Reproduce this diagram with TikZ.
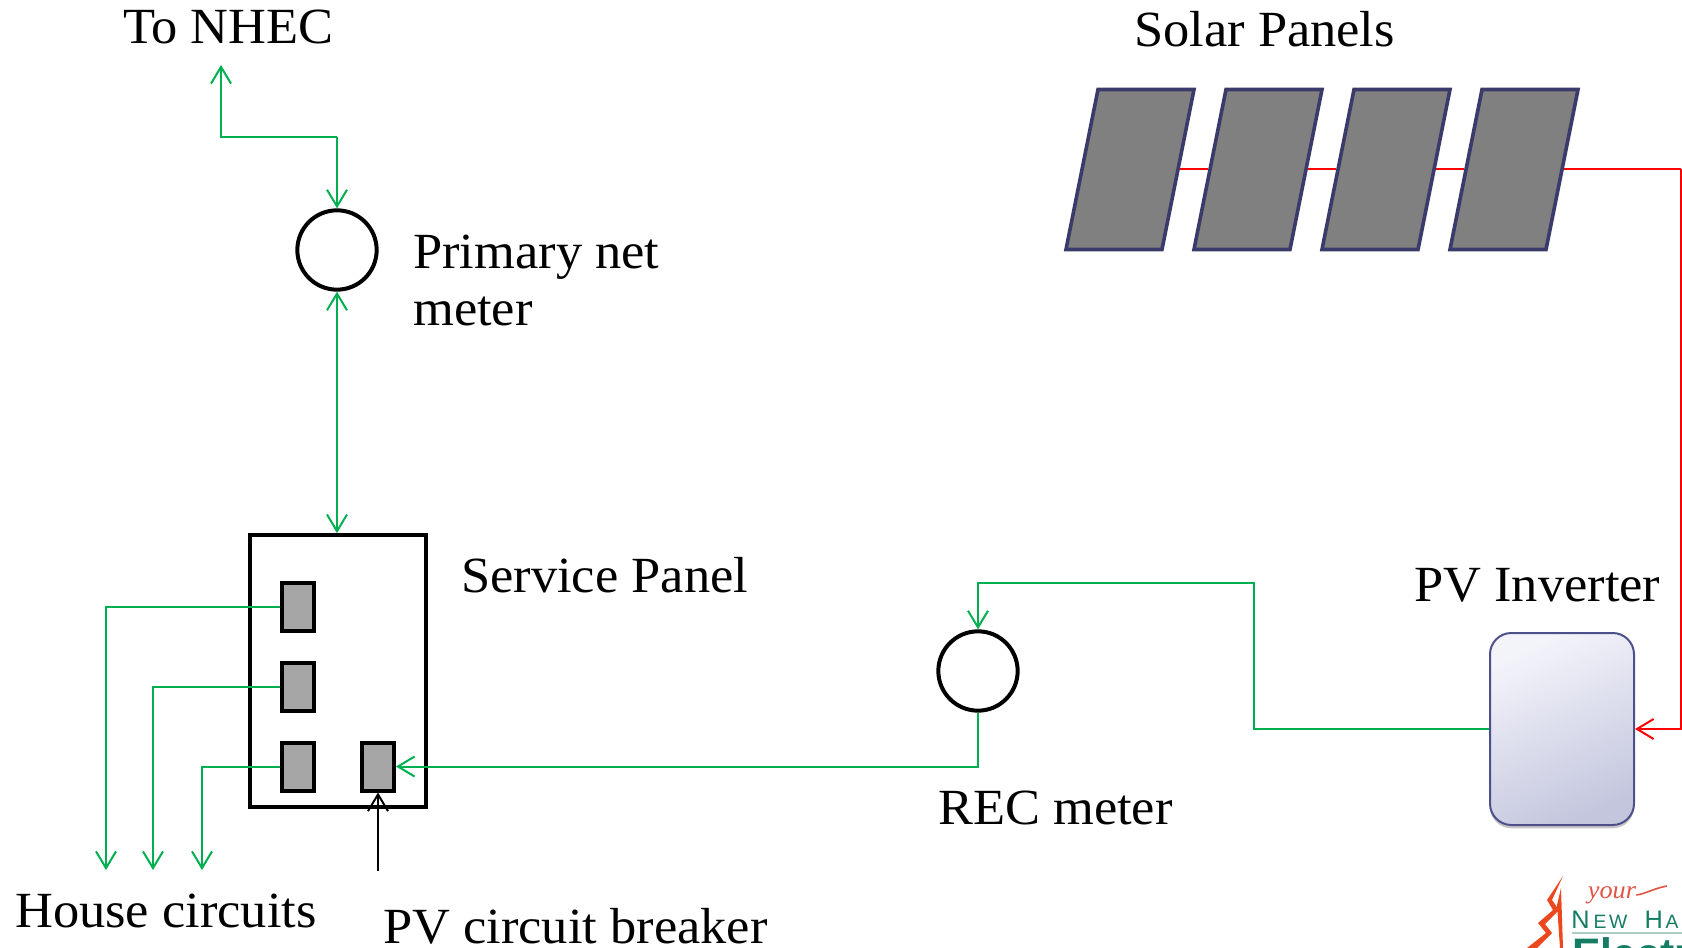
\documentclass[tikz,border=0pt]{standalone}
\usepackage{fontspec}
\setmainfont{Liberation Serif}[FakeStretch=1.035]
\newfontfamily\logosans{Liberation Sans}
\usepackage{xcolor}
\usepackage{tikz}
\usetikzlibrary{arrows.meta,shadows}
\definecolor{wireGreen}{RGB}{0,176,80}
\definecolor{wireRed}{RGB}{255,0,0}
\definecolor{panelEdge}{RGB}{59,59,107}
\definecolor{panelGray}{RGB}{128,128,128}
\definecolor{breakerGray}{RGB}{166,166,166}
\definecolor{inverterEdge}{RGB}{78,80,140}
\definecolor{inverterLight}{RGB}{243,244,250}
\definecolor{inverterDark}{RGB}{196,198,222}
\definecolor{logoOrange}{RGB}{236,72,32}
\definecolor{logoRed}{RGB}{226,84,70}
\definecolor{logoGreen}{RGB}{20,125,100}
\definecolor{logoRule}{RGB}{170,205,195}
\tikzset{
  label/.style={inner sep=0pt,anchor=base west,font=\fontsize{38}{40}\selectfont},
  barb/.style={-{Straight Barb[length=12.5pt,width=15pt,line width=1.5pt]}},
  green wire/.style={wireGreen,line width=1.5pt},
  red wire/.style={wireRed,line width=1.5pt},
  meter/.style={circle,draw=black,line width=3pt,minimum size=59.5pt,inner sep=0pt},
  breaker/.style={rectangle,draw=black,fill=breakerGray,line width=3pt,minimum width=24pt,minimum height=36pt,inner sep=0pt},
  solar/.style={rectangle,draw=panelEdge,fill=panelGray,line width=2.7pt,minimum width=72pt,minimum height=120pt,inner sep=0pt,xslant=0.2,transform shape}
}
\begin{document}
\begin{tikzpicture}[x=0.75pt,y=-0.75pt]
\useasboundingbox (0,0) rectangle (1682,948);

% meters and service panel
\node[meter] (primary) at (337,250) {};
\node[meter] (rec) at (978,671) {};
\node[rectangle,draw=black,line width=2.8pt,minimum width=132pt,minimum height=204pt,inner sep=0pt] (service) at (338,671) {};
\node[breaker] (cbA) at (298,606.5) {};
\node[breaker] (cbB) at (298,686.5) {};
\node[breaker] (cbC) at (298,766.5) {};
\node[breaker] (cbPV) at (378,766.5) {};

% solar panels
\foreach \i/\x in {1/1130,2/1258,3/1386,4/1514}
{
    \node[solar] (panel\i) at (\x,169.5) {};
}
\node[rectangle,draw=inverterEdge,line width=1.5pt,rounded corners=16pt,minimum width=108pt,minimum height=144pt,inner sep=0pt,
  top color=inverterLight,bottom color=inverterDark,shading angle=25,
  drop shadow={shadow xshift=0pt,shadow yshift=-2.5pt,opacity=0.45}] (inverter) at (1562,729) {};

% free ends
\coordinate (nhec) at (221,65);
\coordinate (houseA) at (106,870);
\coordinate (houseB) at (153,870);
\coordinate (houseC) at (202,870);
\coordinate (pvfoot) at (378,871);
\coordinate (redturn) at (1681,169.5);

% green wiring
\draw[green wire,barb] (337,137) -| (nhec);
\draw[green wire,barb] (337,137) -- (primary.north);
\draw[green wire,{Straight Barb[length=12.5pt,width=15pt,line width=1.5pt]}-{Straight Barb[length=12.5pt,width=15pt,line width=1.5pt]}] (primary.south) -- (primary.south |- service.north);
\draw[green wire,barb] (cbA.west) -| (houseA);
\draw[green wire,barb] (cbB.west) -| (houseB);
\draw[green wire,barb] (cbC.west) -| (houseC);
\draw[green wire,barb] (rec.south) |- (cbPV.east);
\draw[green wire,barb] (inverter.west) -| (1254,583) -| (rec.north);
\draw[black,line width=1.2pt,barb] (pvfoot) -- (cbPV.south);

% red wiring
\foreach \a/\b in {1/2,2/3,3/4}
{
    \draw[red wire] (panel\a.east) -- (panel\b.west);
}
\draw[red wire] (panel4.east) -- (redturn);
\draw[red wire,barb] (redturn) |- (inverter.east);

% labels
\node[label] (tonhec) at (123,44) {To NHEC};
\node[label] (solarlabel) at (1134,47) {Solar Panels};
\node[label] (primarylabel) at (413,268.5) {Primary net};
\node[label] (primarylabelb) at (413,326) {meter};
\node[label] (servicelabel) at (461,592) {Service Panel};
\node[label] (inverterlabel) at (1414,601) {PV Inverter};
\node[label] (reclabel) at (938,824) {REC meter};
\node[label] (houselabel) at (15,927) {House circuits};
\node[label] (pvlabel) at (383,943) {PV circuit breaker};

% logo
\begin{scope}
\clip (1510,868) rectangle (1682,948);
\fill[logoOrange] (1563,876) -- (1547,900) -- (1553,910) -- (1538,923) -- (1546,933) -- (1527,948) -- (1537,948) -- (1552,933) -- (1545,924) -- (1559,910) -- (1552,900) -- cycle;
\fill[logoOrange] (1561,888) -- (1557,905) -- (1560,948) -- (1563,948) -- cycle;
\node[logoRed,inner sep=0pt,font=\itshape\fontsize{19}{19}\selectfont] (logoyour) at (1612,895) {your};
\draw[logoRed,line width=1.2pt] (logoyour.east) .. controls (1645,894) and (1655,888) .. (1667,886);
\node[logoGreen,inner sep=0pt,anchor=base west,font=\logosans\fontsize{19}{19}\selectfont] (logonew) at (1571,928) {N\kern3pt\fontsize{14.5}{15}\selectfont E\kern2pt W\kern13pt\fontsize{19}{19}\selectfont H\kern2pt\fontsize{14.5}{15}\selectfont A};
\draw[logoRule,line width=1pt] (1572,933) -- (1682,933);
\node[logoGreen,inner sep=0pt,anchor=base west,font=\logosans\bfseries\fontsize{32}{32}\selectfont] (logoelectric) at (1572,968) {Electric};
\end{scope}
\end{tikzpicture}
\end{document}
